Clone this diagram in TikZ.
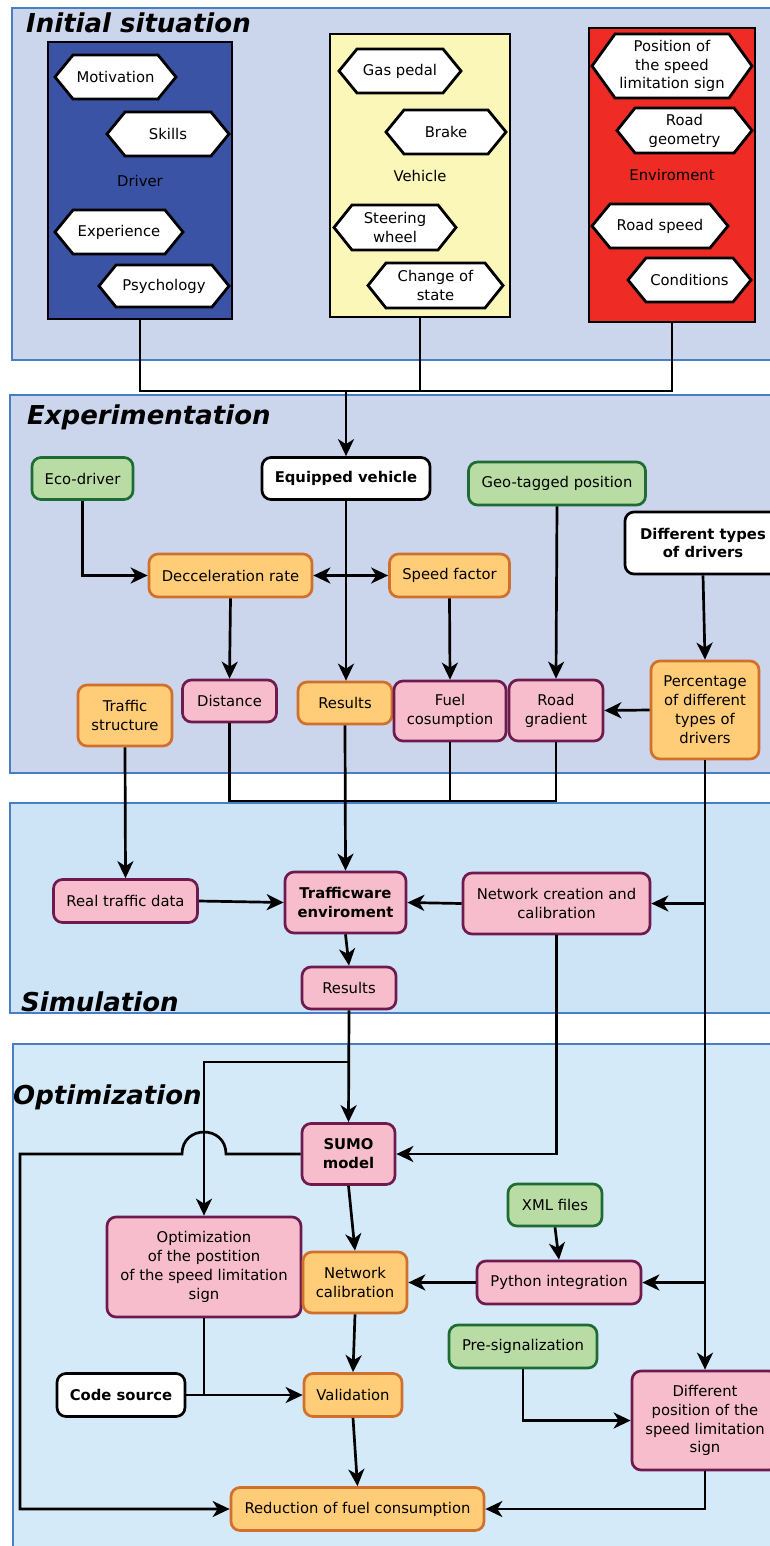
\documentclass[tikz,border=0pt]{standalone}
\usepackage{fontspec}
\setmainfont{DejaVu Sans}
\usetikzlibrary{arrows.meta,calc}

\definecolor{panelA}{HTML}{CBD5EC}
\definecolor{panelB}{HTML}{CDE4F7}
\definecolor{panelC}{HTML}{D5EAF8}
\definecolor{panelline}{HTML}{4A7EC4}
\definecolor{driverblue}{HTML}{3A53A4}
\definecolor{vehyellow}{HTML}{FBF7B9}
\definecolor{envred}{HTML}{EE2B24}
\definecolor{gfill}{HTML}{B8DCA4}
\definecolor{gline}{HTML}{1E6B34}
\definecolor{ofill}{HTML}{FFCC77}
\definecolor{oline}{HTML}{D0702C}
\definecolor{pfill}{HTML}{F7BDCC}
\definecolor{pline}{HTML}{6E1A4F}

% hexagon: name, cx, cy, half width, half height, slant, text
\newcommand\hexa[7]{%
  \path[hexline] (#2-#4,#3) -- (#2-#4+#6,#3-#5) -- (#2+#4-#6,#3-#5) -- (#2+#4,#3)
     -- (#2+#4-#6,#3+#5) -- (#2-#4+#6,#3+#5) -- cycle;
  \node[hexlabel] (#1) at (#2,#3) {#7};}

\begin{document}
\begin{tikzpicture}[x=1pt,y=-1pt,
  every node/.style={font=\fontsize{14.8}{18.9}\selectfont, text=black},
  panel/.style={draw=panelline, line width=2.2pt},
  title/.style={font=\fontsize{26}{30}\selectfont\bfseries\itshape, anchor=base west, inner sep=0pt},
  catbox/.style={draw=black, line width=2.8pt, inner sep=0pt},
  hexline/.style={draw=black, fill=white, line width=2.8pt, line join=miter},
  hexlabel/.style={align=center, inner sep=0pt},
  box/.style={rounded corners=9pt, line width=2.7pt, align=center, inner sep=0pt},
  gbox/.style={box, fill=gfill, draw=gline},
  obox/.style={box, fill=ofill, draw=oline},
  pbox/.style={box, fill=pfill, draw=pline},
  boldtext/.style={font=\fontsize{14.8}{18.9}\selectfont\bfseries},
  wbox/.style={box, fill=white, draw=black, boldtext},
  conn/.style={line width=2.7pt, draw=black},
  tip/.tip={Stealth[length=17pt,width=16pt,inset=5pt]},
  arr/.style={conn, -tip},
]
\useasboundingbox (0,0) rectangle (770,1546);
\clip (0,0) rectangle (770,1546);

% ---------- panels ----------
\path[panel, fill=panelA] (12,8) rectangle (790,360);
\path[panel, fill=panelA] (10,395) rectangle (790,773);
\path[panel, fill=panelB] (10,803) rectangle (790,1013);
\path[panel, fill=panelC] (13,1044) rectangle (790,1570);

\node[title] (t1) at (26,33) {Initial situation};
\node[title] (t2) at (27,424) {Experimentation};
\node[title] (t3) at (21,1011) {Simulation};
\node[title] (t4) at (13,1104) {Optimization};

% ---------- initial situation ----------
\node[catbox, fill=driverblue, minimum width=184pt, minimum height=277pt] (driver) at (140,180.5) {Driver};
\node[catbox, fill=vehyellow, minimum width=180pt, minimum height=283pt] (vehicle) at (420,175.5) {Vehicle};
\node[catbox, fill=envred, minimum width=166pt, minimum height=294pt] (env) at (672,175) {Enviroment};

\hexa{motiv}{115.5}{77}{60.5}{22}{18}{Motivation}
\hexa{skills}{168}{134}{61}{22}{18}{Skills}
\hexa{exper}{119}{232}{64}{22}{18}{Experience}
\hexa{psych}{164}{286}{65}{21}{17}{Psychology}

\hexa{gas}{400}{71}{61}{22}{18}{Gas pedal}
\hexa{brake}{446}{132}{60}{22}{18}{Brake}
\hexa{steer}{395}{227.5}{61}{22.5}{18}{Steering\\wheel}
\hexa{change}{435.5}{285.5}{67.5}{22.5}{18}{Change of\\state}

\hexa{signpos}{672}{66}{80}{32}{23}{Position of\\the speed\\limitation sign}
\hexa{geom}{684.5}{130.5}{67.5}{22.5}{18}{Road\\geometry}
\hexa{rspeed}{660}{226}{68}{22}{18}{Road speed}
\hexa{cond}{689.5}{280}{61.5}{22}{18}{Conditions}

% ---------- experimentation ----------
\node[gbox, minimum width=101pt, minimum height=42pt] (eco) at (82.5,478.5) {Eco-driver};
\node[wbox, minimum width=168pt, minimum height=42pt] (equip) at (346,478.5) {Equipped vehicle};
\node[gbox, minimum width=177pt, minimum height=43pt] (geo) at (557,483.5) {Geo-tagged position};
\node[wbox, minimum width=156pt, minimum height=62pt] (types) at (703,543) {Different types\\of drivers};
\node[obox, minimum width=163pt, minimum height=43pt] (decc) at (230.5,575.5) {Decceleration rate};
\node[obox, minimum width=120pt, minimum height=43pt] (speed) at (449.5,575.5) {Speed factor};
\node[pbox, minimum width=94pt, minimum height=42pt] (dist) at (229.5,701) {Distance};
\node[obox, minimum width=94pt, minimum height=42pt] (res1) at (345,703) {Results};
\node[obox, minimum width=94pt, minimum height=61pt] (tstruct) at (125,715.5) {Traffic\\structure};
\node[pbox, minimum width=112pt, minimum height=60pt] (fuel) at (450,711) {Fuel\\cosumption};
\node[pbox, minimum width=94pt, minimum height=61pt] (grad) at (556,710.5) {Road\\gradient};
\node[obox, minimum width=108pt, minimum height=98pt] (perc) at (705,710) {Percentage\\of different\\types of\\drivers};

% ---------- simulation ----------
\node[pbox, minimum width=144pt, minimum height=43pt] (real) at (125.5,901) {Real traffic data};
\node[pbox, boldtext, minimum width=121pt, minimum height=61pt] (tware) at (345.5,902.5) {Trafficware\\enviroment};
\node[pbox, minimum width=187pt, minimum height=61pt] (netcr) at (556.5,903.5) {Network creation and\\calibration};
\node[pbox, minimum width=94pt, minimum height=42pt] (res2) at (349,988) {Results};

% ---------- optimization ----------
\node[pbox, boldtext, minimum width=93pt, minimum height=61pt] (sumo) at (348.5,1154) {SUMO\\model};
\node[pbox, minimum width=194pt, minimum height=100pt] (optpos) at (204,1267) {Optimization\\of the postition\\of the speed limitation\\sign};
\node[obox, minimum width=104pt, minimum height=61pt] (netcal) at (355,1282.5) {Network\\calibration};
\node[obox, minimum width=98pt, minimum height=43pt] (valid) at (353,1395) {Validation};
\node[wbox, minimum width=128pt, minimum height=43pt] (code) at (121,1395) {Code source};
\node[obox, minimum width=253pt, minimum height=43pt] (reduce) at (357.5,1509) {Reduction of fuel consumption};
\node[gbox, minimum width=94pt, minimum height=42pt] (xml) at (555,1205) {XML files};
\node[pbox, minimum width=164pt, minimum height=43pt] (python) at (559,1282.5) {Python integration};
\node[gbox, minimum width=148pt, minimum height=43pt] (presig) at (523,1346.5) {Pre-signalization};
\node[pbox, minimum width=146pt, minimum height=99pt] (diffpos) at (705,1420.5) {Different\\position of the\\speed limitation\\sign};

% ---------- connectors ----------
\coordinate (top) at (346,391);
\draw[conn] (driver.south) |- (top) -| (env.south);
\draw[conn] (vehicle.south) -- (vehicle.south |- top);
\draw[arr] (top) -- (equip.north);

\draw[arr] (eco.south) |- (decc.west);
\draw[conn, tip-tip] (decc.east) -- (speed.west);
\draw[arr] (equip.south) -- (equip.south |- res1.north);
\draw[arr] (decc.south) -- (dist.north);
\draw[arr] (speed.south) -- (fuel.north);
\draw[arr] (geo.south) -- (grad.north);
\draw[arr] (types.south) -- (perc.north);
\draw[arr] (perc.west) -- (grad.east);
\coordinate (merge) at (450,801);
\draw[conn] (dist.south) |- (merge) -| (grad.south);
\draw[conn] (fuel.south) -- (merge);

\draw[arr] (res1.south) -- (tware.north);
\draw[arr] (tstruct.south) -- (real.north);
\draw[arr] (real.east) -- (tware.west);
\draw[arr] (netcr.west) -- (tware.east);
\draw[arr] (perc.south) -- (diffpos.north);
\draw[arr] (perc.south |- netcr.east) -- (netcr.east);
\draw[arr] (perc.south |- python.east) -- (python.east);
\draw[arr] (tware.south) -- (res2.north);
\draw[arr] (res2.south) -- (sumo.north);
\coordinate (split) at (349,1062);
\draw[arr] (res2.south |- split) -| (optpos.north);
\draw[arr] (netcr.south) |- (sumo.east);

\coordinate (hop) at (optpos.north |- sumo.west);
\coordinate (rail) at (20,1154);
\draw[arr] (sumo.west) -- ($(hop)+(22,0)$)
   .. controls ($(hop)+(22,-29.3)$) and ($(hop)+(-22,-29.3)$) .. ($(hop)+(-22,0)$)
   -- (rail) |- (reduce.west);

\draw[arr] (sumo.south) -- (netcal.north);
\draw[conn] (optpos.south) -- (optpos.south |- code.east);
\draw[arr] (code.east) -- (valid.west);
\draw[arr] (netcal.south) -- (valid.north);
\draw[arr] (valid.south) -- (reduce.north);
\draw[arr] (xml.south) -- (python.north);
\draw[arr] (python.west) -- (netcal.east);
\draw[arr] (presig.south) |- (diffpos.west);
\draw[arr] (diffpos.south) |- (reduce.east);
\end{tikzpicture}
\end{document}
